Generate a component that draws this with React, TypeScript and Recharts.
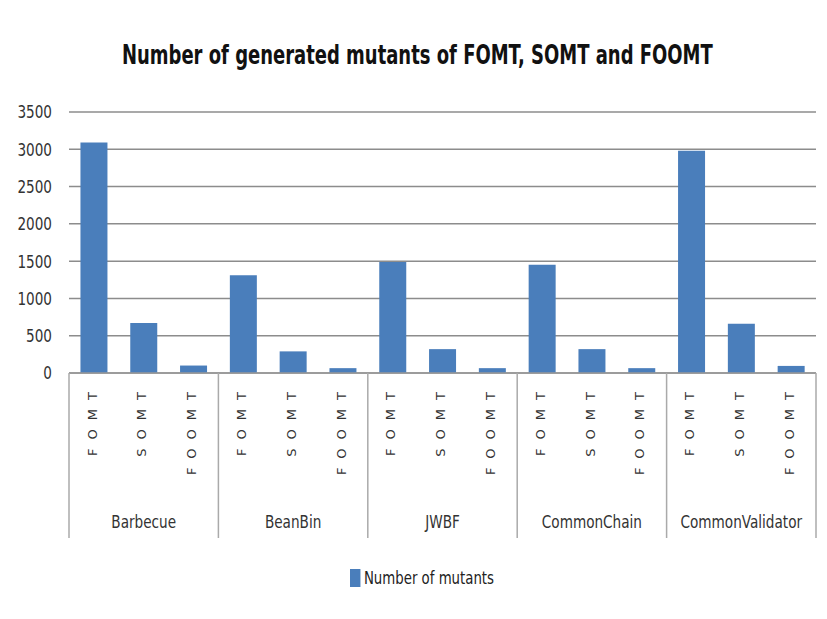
import React from 'react';
import { BarChart, Bar, XAxis, YAxis, CartesianGrid } from 'recharts';

const groups = ['Barbecue', 'BeanBin', 'JWBF', 'CommonChain', 'CommonValidator'];
const techniques = ['FOMT', 'SOMT', 'FOOMT'];
const fomtValues = [3090, 1310, 1490, 1450, 2980];
const somtValues = [670, 290, 320, 320, 660];
const foomtValues = [100, 65, 65, 65, 95];
const yTicks = [0, 500, 1000, 1500, 2000, 2500, 3000, 3500];
const seriesName = 'Number of mutants';
const title = 'Number of generated mutants of FOMT, SOMT and FOOMT';

const valueLists = [fomtValues, somtValues, foomtValues];
const data = groups.flatMap((g, gi) =>
  techniques.map((t, ti) => ({ key: `${g}-${t}`, tech: t, group: g, value: valueLists[ti][gi] }))
);

const W = 827;
const H = 619;
const MARGIN = { top: 112, right: 11, left: 9, bottom: 66 };
const Y_AXIS_W = 60;
const X_AXIS_H = H - MARGIN.top - MARGIN.bottom - 261;
const PLOT_LEFT = MARGIN.left + Y_AXIS_W;
const PLOT_RIGHT = W - MARGIN.right;
const BAND = (PLOT_RIGHT - PLOT_LEFT) / data.length;

const NARROW = '"DejaVu Sans Condensed", "DejaVu Sans", Arial, sans-serif';

const XTick = (props: any) => {
  const { x, y, payload } = props;
  const i = payload.index;
  const pos = i % 3;
  const groupIdx = Math.floor(i / 3);
  const els: React.ReactNode[] = [];
  els.push(
    <text
      key="t"
      transform={`translate(${x - 2}, ${y + 10}) rotate(-90)`}
      textAnchor="end"
      dy="0.36em"
      fontFamily='"DejaVu Sans", Verdana, sans-serif'
      fontSize={13}
      letterSpacing={9}
      fill="#333"
    >
      {data[i]?.tech}
    </text>
  );
  if (pos === 0) {
    els.push(<line key="l" x1={x - BAND / 2} x2={x - BAND / 2} y1={y} y2={y + 165} stroke="#aaa" strokeWidth={1.5} />);
  }
  if (pos === 1) {
    els.push(
      <text
        key="g"
        transform={`translate(${x}, ${y + 155}) scale(0.89, 1)`}
        textAnchor="middle"
        fontFamily={NARROW}
        fontSize={17}
        fill="#333"
      >
        {groups[groupIdx]}
      </text>
    );
  }
  if (i === data.length - 1) {
    els.push(<line key="r" x1={x + BAND / 2} x2={x + BAND / 2} y1={y} y2={y + 165} stroke="#aaa" strokeWidth={1.5} />);
  }
  return <g>{els}</g>;
};

const YTick = (props: any) => {
  const { x, y, payload } = props;
  return (
    <text
      transform={`translate(${x}, ${y}) scale(0.84, 1)`}
      textAnchor="end"
      dy="0.36em"
      fontFamily={NARROW}
      fontSize={18}
      fill="#333"
    >
      {payload.value}
    </text>
  );
};

export default function App() {
  return (
    <div style={{ position: 'relative', width: W, height: H, margin: -8, background: '#fff' }}>
      <div
        style={{
          position: 'absolute',
          left: 7,
          top: 5,
          width: 830,
          height: 610,
          border: '1.5px solid #b0b0b0',
          boxSizing: 'border-box',
        }}
      />
      <div
        style={{
          position: 'absolute',
          left: 0,
          top: 38,
          width: 835,
          textAlign: 'center',
          fontFamily: NARROW,
          fontWeight: 'bold',
          fontSize: 27,
          color: '#111',
          lineHeight: '34px',
          transform: 'scaleX(0.74)',
          transformOrigin: '417px 0',
          whiteSpace: 'nowrap',
        }}
      >
        {title}
      </div>
      <BarChart width={W} height={H} data={data} margin={MARGIN} barCategoryGap="23%">
        <CartesianGrid vertical={false} stroke="#8c8c8c" strokeWidth={1.5} />
        <XAxis
          dataKey="key"
          height={X_AXIS_H}
          interval={0}
          tick={<XTick />}
          tickLine={false}
          tickSize={0}
          tickMargin={0}
          axisLine={{ stroke: '#999', strokeWidth: 1.5 }}
        />
        <YAxis
          width={Y_AXIS_W}
          domain={[0, 3500]}
          ticks={yTicks}
          interval={0}
          axisLine={false}
          tickLine={false}
          tickSize={0}
          tickMargin={17}
          tick={<YTick />}
        />
        <Bar dataKey="value" name={seriesName} fill="#4a7ebb" isAnimationActive={false} />
      </BarChart>
      <div
        style={{
          position: 'absolute',
          top: 568,
          left: 350,
          display: 'flex',
          alignItems: 'center',
          fontFamily: NARROW,
          fontSize: 17,
          color: '#222',
          transform: 'scaleX(0.87)',
          transformOrigin: '0 0',
          whiteSpace: 'nowrap',
        }}
      >
        <span style={{ display: 'inline-block', width: 12, height: 18, background: '#4a7ebb', marginRight: 4 }} />
        <span>{seriesName}</span>
      </div>
    </div>
  );
}
